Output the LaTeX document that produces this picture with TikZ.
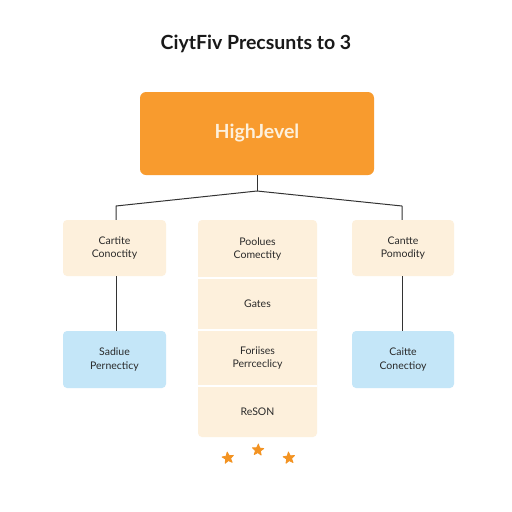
\documentclass[tikz,border=0pt]{standalone}
\usepackage{fontspec}
\setmainfont{Lato}
\usetikzlibrary{shapes.geometric}
\definecolor{orangebox}{HTML}{F89B2E}
\definecolor{creambox}{HTML}{FDF0DC}
\definecolor{bluebox}{HTML}{C4E6F8}
\definecolor{linecol}{HTML}{333333}
\definecolor{txt}{HTML}{2A2A2A}
\definecolor{startxt}{HTML}{F39322}
\tikzset{
  x=1pt, y=-1pt,
  box/.style={rounded corners=4pt, inner sep=0pt, align=center, font=\fontsize{10.5}{13.5}\selectfont, text=txt},
  cream/.style={box, fill=creambox},
  blue/.style={box, fill=bluebox},
  conn/.style={draw=linecol, line width=1pt},
  sep/.style={draw=white, line width=1.5pt},
  staricon/.style={star, star points=5, star point ratio=2.3, fill=startxt, draw=startxt, line join=round, line width=0.8pt, inner sep=0pt, minimum size=12pt}
}
\begin{document}
\begin{tikzpicture}
\useasboundingbox[fill=white] (0,0) rectangle (512,512);
\node[font=\fontsize{19.5}{22}\selectfont\bfseries, text=black!90] (title) at (256,44) {CiytFiv Precsunts to 3};
\node[box, fill=orangebox, minimum width=234pt, minimum height=83pt, rounded corners=6pt, text=creambox, font=\fontsize{19.5}{22}\selectfont\bfseries] (top) at (257,133.5) {HighJevel};
% left column
\node[cream, minimum width=103pt, minimum height=56pt] (l1) at (114.5,248) {Cartite\\Conoctity};
\node[blue, minimum width=103pt, minimum height=57pt] (l2) at (114.5,359.5) {Sadiue\\Pernecticy};
% right column
\node[cream, minimum width=102pt, minimum height=56pt] (r1) at (403,248) {Cantte\\Pomodity};
\node[blue, minimum width=102pt, minimum height=57pt] (r2) at (403,359.5) {Caitte\\Conectioy};
% middle column
\fill[creambox, rounded corners=4pt] (198,220) rectangle (317,437);
\node[box, minimum width=119pt, minimum height=58pt] (m1) at (257.5,249) {Poolues\\Comectity};
\node[box, minimum width=119pt, minimum height=52pt] (m2) at (257.5,304) {Gates};
\node[box, minimum width=119pt, minimum height=56pt] (m3) at (257.5,358) {Foriises\\Perrceclicy};
\node[box, minimum width=119pt, minimum height=51pt] (m4) at (257.5,411.5) {ReSON};
\draw[sep] (m1.south west) -- (m1.south east);
\draw[sep] (m2.south west) -- (m2.south east);
\draw[sep] (m3.south west) -- (m3.south east);
% connectors
\coordinate (hub) at (257,191);
\coordinate (lj) at (116,206);
\coordinate (rj) at (402,206);
\draw[conn] (top.south) -- (hub);
\draw[conn, line join=round] (hub) -- (lj) -- (lj |- l1.north);
\draw[conn, line join=round] (hub) -- (rj) -- (rj |- r1.north);
\draw[conn] (l1.south -| lj) -- (l2.north -| lj);
\draw[conn] (r1.south -| rj) -- (r2.north -| rj);
% stars
\node[staricon, rotate=8] (s1) at (228,458) {};
\node[staricon, rotate=-4] (s2) at (258,450) {};
\node[staricon, rotate=6] (s3) at (289,458) {};
\end{tikzpicture}
\end{document}
